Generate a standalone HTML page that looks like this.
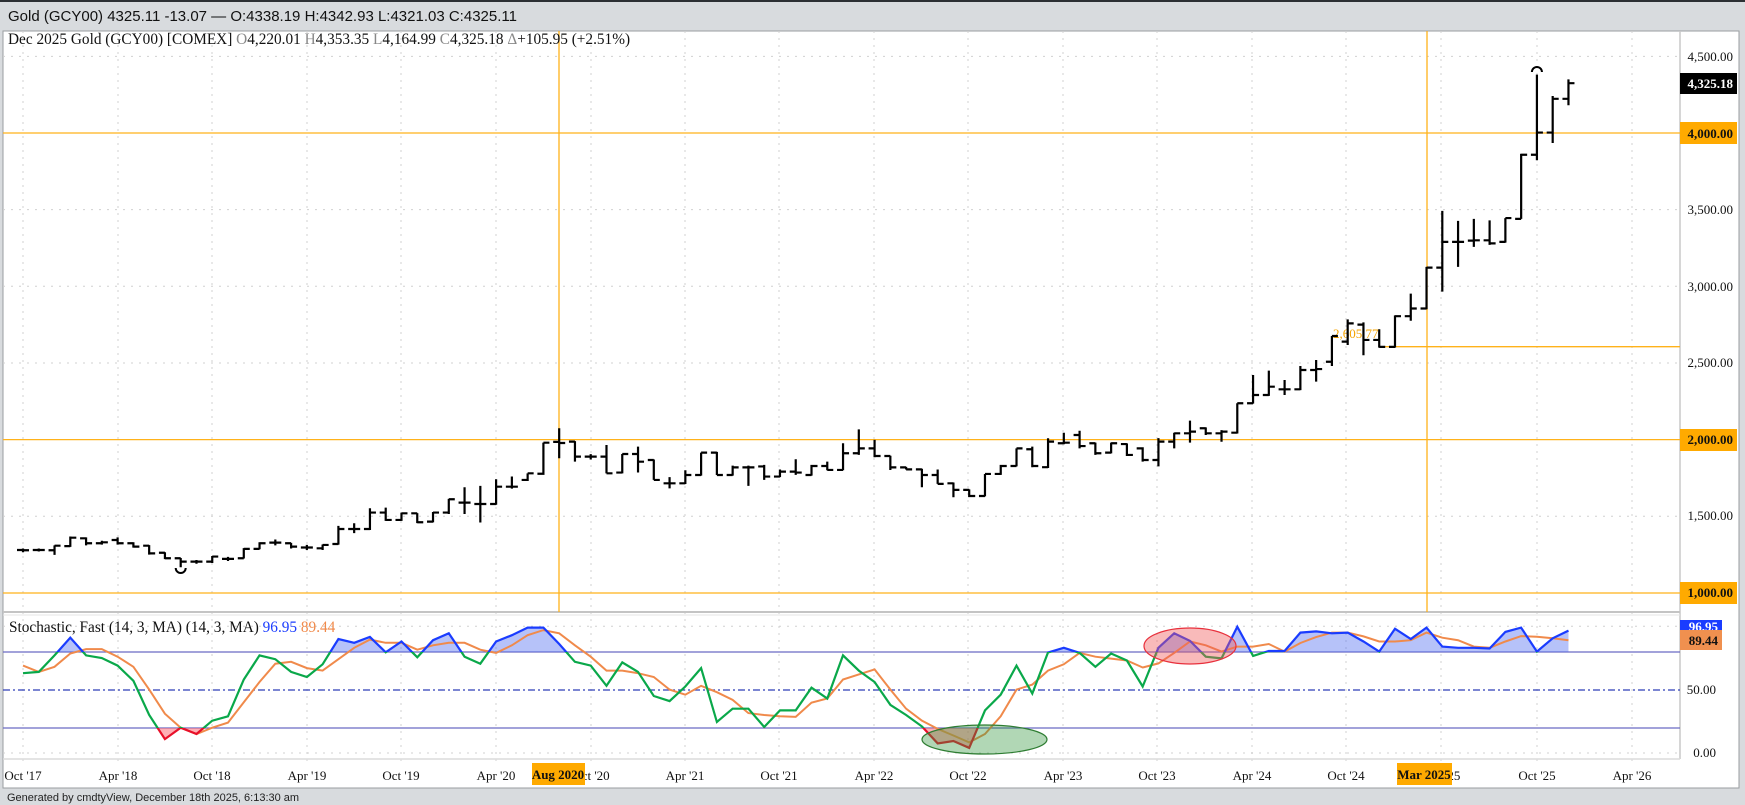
<!DOCTYPE html>
<html><head><meta charset="utf-8">
<style>
html,body{margin:0;padding:0;background:#d8dbde;}
body{width:1745px;height:805px;overflow:hidden;position:relative;font-family:"Liberation Sans",sans-serif;}
svg{position:absolute;left:0;top:0;}
.ser{font-family:"Liberation Serif",serif;}
</style></head><body>
<svg id="s" width="1745" height="805" xmlns="http://www.w3.org/2000/svg">
<defs>
<clipPath id="cTop"><rect x="0" y="600" width="1680" height="52"/></clipPath>
<clipPath id="cMid"><rect x="0" y="652" width="1680" height="76"/></clipPath>
<clipPath id="cBot"><rect x="0" y="728" width="1680" height="40"/></clipPath>
</defs>
<rect x="0" y="0" width="1745" height="805" fill="#d8dbde"/>
<rect x="0" y="0" width="1745" height="2" fill="#2b2f33"/>
<text x="8" y="21" font-size="15" fill="#111">Gold (GCY00) 4325.11 -13.07 — O:4338.19 H:4342.93 L:4321.03 C:4325.11</text>
<rect x="3" y="31" width="1736" height="757" fill="#fff" stroke="#9a9da0" stroke-width="1"/>
<g id="grid"></g>
<line x1="1680" y1="31" x2="1680" y2="759" stroke="#c8c8c8" stroke-width="1.5"/>
<line x1="3" y1="612" x2="1680" y2="612" stroke="#c4c4c4" stroke-width="2"/>
<line x1="3" y1="615" x2="1680" y2="615" stroke="#e4e4e4" stroke-width="1"/>
<line x1="3" y1="759" x2="1680" y2="759" stroke="#dcdcdc" stroke-width="1.5"/>
<g stroke="#ffb21a" stroke-width="1.3">
<line x1="3" y1="133" x2="1680" y2="133"/>
<line x1="3" y1="439.6" x2="1680" y2="439.6"/>
<line x1="3" y1="593" x2="1680" y2="593"/>
<line x1="1380" y1="346.7" x2="1680" y2="346.7"/>
<line x1="559" y1="31" x2="559" y2="612"/>
<line x1="1427" y1="31" x2="1427" y2="612"/>
</g>
<text class="ser" x="1333" y="338" font-size="13" fill="#f5a300">2,605.77</text>
<line x1="3" y1="652" x2="1680" y2="652" stroke="#6a6ac4" stroke-width="1.2"/>
<line x1="3" y1="728" x2="1680" y2="728" stroke="#6a6ac4" stroke-width="1.2"/>
<line x1="3" y1="690" x2="1680" y2="690" stroke="#2f3fb8" stroke-width="1.2" stroke-dasharray="7,3,2,3"/>
<g id="stoch"></g>
<g id="bars"></g>
<ellipse cx="1190" cy="646" rx="46" ry="18" fill="rgba(240,90,90,0.42)" stroke="#e8303c" stroke-width="1.2"/>
<ellipse cx="984.5" cy="739.5" rx="62.5" ry="14.5" fill="rgba(50,150,60,0.38)" stroke="#2e7d32" stroke-width="1.2"/>
<text class="ser" x="8" y="44" font-size="15.3" fill="#111">Dec 2025 Gold (GCY00) [COMEX] <tspan fill="#888">O</tspan>4,220.01 <tspan fill="#888">H</tspan>4,353.35 <tspan fill="#888">L</tspan>4,164.99 <tspan fill="#888">C</tspan>4,325.18 <tspan fill="#888">Δ</tspan>+105.95 (+2.51%)</text>
<text class="ser" x="9" y="632" font-size="15.3" fill="#111">Stochastic, Fast (14, 3, MA)  (14, 3, MA) <tspan fill="#1a3cff">96.95</tspan> <tspan fill="#f08a4b">89.44</tspan></text>
<g class="ser" font-size="13" fill="#111" text-anchor="end">
<text x="1733" y="61">4,500.00</text>
<text x="1733" y="214">3,500.00</text>
<text x="1733" y="291">3,000.00</text>
<text x="1733" y="367">2,500.00</text>
<text x="1733" y="520">1,500.00</text>
<text x="1716" y="694">50.00</text>
<text x="1716" y="757">0.00</text>
</g>
<rect x="1680" y="73" width="57" height="21" fill="#000"/>
<text class="ser" x="1733" y="88" font-size="13" font-weight="bold" fill="#fff" text-anchor="end">4,325.18</text>
<rect x="1680" y="122" width="57" height="22" fill="#ffaa00"/>
<text class="ser" x="1733" y="138" font-size="13" font-weight="bold" fill="#111" text-anchor="end">4,000.00</text>
<rect x="1680" y="429" width="57" height="22" fill="#ffaa00"/>
<text class="ser" x="1733" y="444" font-size="13" font-weight="bold" fill="#111" text-anchor="end">2,000.00</text>
<rect x="1680" y="582" width="57" height="22" fill="#ffaa00"/>
<text class="ser" x="1733" y="597" font-size="13" font-weight="bold" fill="#111" text-anchor="end">1,000.00</text>
<rect x="1680" y="620" width="42" height="12" fill="#1a3cff"/>
<text class="ser" x="1718" y="631" font-size="13" font-weight="bold" fill="#fff" text-anchor="end">96.95</text>
<rect x="1680" y="630" width="42" height="20" fill="#f0904f"/>
<text class="ser" x="1718" y="645" font-size="13" font-weight="bold" fill="#111" text-anchor="end">89.44</text>
<g class="ser" font-size="13" fill="#111" text-anchor="middle">
<text x="23" y="780">Oct '17</text>
<text x="118" y="780">Apr '18</text>
<text x="212" y="780">Oct '18</text>
<text x="307" y="780">Apr '19</text>
<text x="401" y="780">Oct '19</text>
<text x="496" y="780">Apr '20</text>
<text x="591" y="780">Oct '20</text>
<text x="685" y="780">Apr '21</text>
<text x="779" y="780">Oct '21</text>
<text x="874" y="780">Apr '22</text>
<text x="968" y="780">Oct '22</text>
<text x="1063" y="780">Apr '23</text>
<text x="1157" y="780">Oct '23</text>
<text x="1252" y="780">Apr '24</text>
<text x="1346" y="780">Oct '24</text>
<text x="1441" y="780">Apr '25</text>
<text x="1537" y="780">Oct '25</text>
<text x="1632" y="780">Apr '26</text>
</g>
<rect x="532" y="763" width="53" height="22" fill="#ffaa00"/>
<text class="ser" x="558" y="779" font-size="13" font-weight="bold" fill="#111" text-anchor="middle">Aug 2020</text>
<rect x="1397" y="763" width="55" height="22" fill="#ffaa00"/>
<text class="ser" x="1424" y="779" font-size="13" font-weight="bold" fill="#111" text-anchor="middle">Mar 2025</text>
<text x="7" y="801" font-size="11" fill="#222">Generated by cmdtyView, December 18th 2025, 6:13:30 am</text>
</svg>
<script>
var NS="http://www.w3.org/2000/svg";
function el(p,t,a){var e=document.createElementNS(NS,t);for(var k in a)e.setAttribute(k,a[k]);p.appendChild(e);return e;}
function X(m){return 23+m*15.77;}
function Y(p){return 133-(p-4000)*0.1533;}
function SY(v){return 753-v*1.267;}
var g=document.getElementById('grid');
var gx=[23,118,212,307,401,496,591,685,779,874,968,1063,1157,1252,1346,1441,1537,1632];
gx.forEach(function(x){el(g,'line',{x1:x,y1:31,x2:x,y2:764,stroke:'#d0d0d0','stroke-width':1,'stroke-dasharray':'2,5'});});
[4500,3500,3000,2500,1500].forEach(function(p){el(g,'line',{x1:3,y1:Y(p),x2:1680,y2:Y(p),stroke:'#d0d0d0','stroke-width':1,'stroke-dasharray':'2,6'});});
[0,100].forEach(function(v){el(g,'line',{x1:3,y1:SY(v),x2:1680,y2:SY(v),stroke:'#d0d0d0','stroke-width':1,'stroke-dasharray':'2,6'});});
var D=[[1280,1290,1265,1278],[1280,1290,1270,1280],[1278,1310,1248,1308],[1305,1368,1300,1360],[1356,1362,1310,1324],[1324,1340,1315,1330],[1345,1362,1315,1324],[1324,1330,1295,1302],[1308,1312,1250,1258],[1262,1265,1220,1226],[1226,1228,1167,1204],[1204,1215,1190,1204],[1204,1241,1195,1237],[1222,1235,1208,1222],[1226,1292,1224,1287],[1287,1330,1285,1324],[1328,1348,1310,1328],[1324,1326,1290,1302],[1296,1313,1280,1296],[1291,1316,1280,1313],[1319,1437,1315,1417],[1417,1454,1390,1417],[1417,1552,1410,1524],[1524,1556,1470,1476],[1476,1524,1470,1519],[1519,1520,1455,1461],[1465,1528,1460,1524],[1524,1613,1515,1611],[1589,1689,1515,1589],[1580,1698,1459,1580],[1580,1741,1575,1693],[1693,1759,1680,1693],[1737,1780,1730,1780],[1777,1980,1770,1980],[1985,2074,1878,1978],[1987,1990,1856,1889],[1889,1905,1870,1889],[1889,1965,1780,1780],[1785,1906,1780,1906],[1906,1954,1785,1856],[1867,1870,1737,1737],[1715,1755,1682,1715],[1715,1800,1710,1769],[1769,1915,1765,1915],[1915,1920,1769,1769],[1769,1830,1765,1819],[1819,1830,1698,1819],[1825,1835,1737,1759],[1759,1805,1755,1791],[1791,1872,1770,1785],[1769,1835,1765,1828],[1828,1856,1800,1802],[1802,1976,1800,1911],[1911,2067,1900,1943],[1943,1998,1885,1893],[1893,1895,1802,1819],[1819,1822,1805,1806],[1806,1810,1689,1769],[1769,1805,1711,1711],[1715,1720,1624,1672],[1672,1675,1625,1632],[1632,1776,1630,1776],[1776,1835,1770,1828],[1828,1943,1825,1943],[1937,1954,1820,1828],[1820,2009,1815,1987],[1976,2045,1970,1980],[2030,2058,1943,1958],[1976,1980,1900,1911],[1915,1980,1910,1976],[1971,1975,1893,1900],[1943,1950,1856,1867],[1867,2010,1825,1987],[1987,2045,1943,2041],[2041,2124,1980,2052],[2074,2080,2030,2041],[2041,2062,1986,2052],[2045,2237,2040,2237],[2237,2421,2235,2291],[2291,2450,2285,2345],[2328,2389,2291,2328],[2328,2480,2323,2454],[2454,2519,2378,2460],[2508,2676,2480,2676],[2639,2784,2617,2758],[2750,2765,2550,2650],[2650,2720,2600,2605],[2605,2810,2600,2805],[2805,2952,2775,2855],[2855,3127,2850,3122],[3122,3492,2965,3290],[3290,3427,3127,3290],[3298,3440,3257,3300],[3300,3430,3270,3280],[3290,3445,3285,3445],[3440,3865,3440,3858],[3858,4381,3822,4003],[4003,4241,3935,4223],[4223,4350,4181,4325]];
var b=document.getElementById('bars');
var d='';
D.forEach(function(r,m){var x=X(m);d+='M'+x+' '+Y(r[1])+'V'+Y(r[2])+'M'+(x-6)+' '+Y(r[0])+'H'+x+'M'+x+' '+Y(r[3])+'H'+(x+6);});
el(b,'path',{d:d,stroke:'#000','stroke-width':2.2,fill:'none'});
el(b,'path',{d:'M'+(X(10)-5)+' 568 A5 5 0 0 0 '+(X(10)+5)+' 568',stroke:'#000','stroke-width':2,fill:'none'});
el(b,'path',{d:'M'+(X(96)-5)+' 72 A5 5 0 0 1 '+(X(96)+5)+' 72',stroke:'#000','stroke-width':2,fill:'none'});
var K=[63,64,77,91,77,75,69,57,30,11,20,15,25.5,29,58,77,74,64,60,70,90,87,91.6,79.5,88,75.5,89,94.5,76,70.5,88,93,99,99,86,72,
69,53,71.5,64,45,41,52.5,67,24.5,35,35,20.5,33.6,33.6,51.5,43,77,65,56,38,30,21,7.6,9.5,4,33.6,46,69,47,79.3,83,79,68,78.5,73,52.5,83,94.5,88.5,76,74.7,99.7,76.6,80.5,80.5,95,96,94.5,95,
88,80,98,90,99,84,83,83,82.5,95.6,99,80,90.5,96.6];
var Dd=[69,64,68,78.5,82,82,76,68,50,31,20,15,20,24,40,56,70.5,72,67,65,74,83,89.5,87,87,81.5,85,87,87,81.5,79,85,93,97,94.5,85,
76,65,65,63,60,50,46,53,48,42,31.5,30,29,28.5,39.8,43,58,62,66,50,35,25.5,19,13.8,8.4,15,29,50,54,65,70,79,76,74.5,73,67.5,70.7,79,88,85,80,84,84,86,80,86.8,91.5,95,95,
92,88,88,89,95,91,89,84,83,88,92.3,91.8,90.5,89];
function pts(a){return a.map(function(v,i){return X(i).toFixed(1)+','+SY(v).toFixed(1);}).join(' ');}
var s=document.getElementById('stoch');
var kp=pts(K), last=X(K.length-1);
el(s,'polygon',{points:X(0)+',652 '+kp+' '+last+',652',fill:'rgba(80,110,240,0.42)','clip-path':'url(#cTop)'});
el(s,'polygon',{points:X(0)+',728 '+kp+' '+last+',728',fill:'rgba(255,110,120,0.55)','clip-path':'url(#cBot)'});
el(s,'polyline',{points:pts(Dd),fill:'none',stroke:'#f08a4b','stroke-width':2});
el(s,'polyline',{points:kp,fill:'none',stroke:'#1a3cff','stroke-width':2.2,'clip-path':'url(#cTop)'});
el(s,'polyline',{points:kp,fill:'none',stroke:'#0aa84a','stroke-width':2.2,'clip-path':'url(#cMid)'});
el(s,'polyline',{points:kp,fill:'none',stroke:'#e8102a','stroke-width':2.2,'clip-path':'url(#cBot)'});
</script>
</body></html>
